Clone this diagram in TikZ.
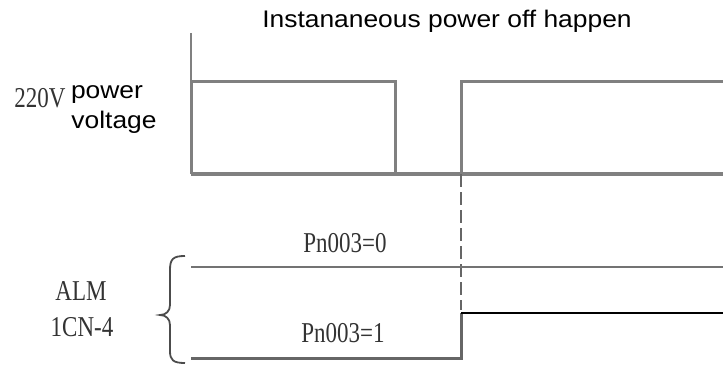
\documentclass[tikz,border=0pt]{standalone}
\usepackage{fontspec}
\newfontfamily\labsans{Liberation Sans}
\newfontfamily\labserif{Liberation Serif}
\begin{document}
\begin{tikzpicture}[x=1pt,y=-1pt,
  sanslab/.style={inner sep=0pt,font=\labsans\fontsize{24}{27}\selectfont,xscale=1.1,transform shape},
  seriflab/.style={inner sep=0pt,font=\labserif\fontsize{23}{26}\selectfont,yscale=1.25,transform shape,text=black!80},
  sig/.style={draw=black!50,line width=3pt},
  base/.style={draw=black!50,line width=4.5pt},
  thinsig/.style={draw=black!55,line width=2.2pt},
  blacksig/.style={draw=black,line width=2.5pt}]
\useasboundingbox (0,0) rectangle (723,369);
% coordinates
\coordinate (axtop) at (191,33);
\coordinate (o) at (191,174);
\coordinate (p1up) at (191,82);
\coordinate (p1end) at (395,82);
\coordinate (p1down) at (395,174);
\coordinate (p2low) at (461,174);
\coordinate (p2up) at (461,82);
\coordinate (p2end) at (723,82);
\coordinate (bend) at (723,174);
\coordinate (dashend) at (461,310);
\coordinate (a0s) at (191,267);
\coordinate (a0e) at (723,267);
\coordinate (a1s) at (191,358);
\coordinate (a1m) at (461,358);
\coordinate (a1u) at (461,313);
\coordinate (a1e) at (723,313);
% axis and power signal
\draw[draw=black!50,line width=2.4pt] (axtop) -- (o);
\draw[sig,line join=miter] (o) -- (p1up) -- (p1end) -- (p1down);
\draw[sig,line join=miter] (p2low) -- (p2up) -- (p2end);
\draw[base] (o) -- (bend);
\draw[draw=black!60,line width=1.6pt,dash pattern=on 13pt off 5pt] (p2low) -- (dashend);
% ALM signals
\draw[thinsig] (a0s) -- (a0e);
\draw[draw=black!60,line width=3pt,line join=miter] (a1s) -- (a1m) -- (a1u);
\draw[blacksig] (a1u) -- (a1e);
% brace
\draw[draw=black!70,line width=1.8pt] (185,256) .. controls (173,256) and (170,259) .. (170,270) -- (170,305) .. controls (170,311) and (166,315) .. (160,315) .. controls (166,315) and (170,319) .. (170,325) -- (170,351) .. controls (170,360) and (173,363) .. (185,363);
% labels
\node[sanslab] (title) at (447,21) {Instananeous power off happen};
\node[seriflab] (v220) at (40,98) {220V};
\node[sanslab] (power) at (107,95) {power};
\node[sanslab] (voltage) at (114,122) {voltage};
\node[seriflab] (alm) at (81,291) {ALM};
\node[seriflab] (cn) at (82,327) {1CN-4};
\node[seriflab] (pn0) at (345,243) {Pn003=0};
\node[seriflab] (pn1) at (343,333) {Pn003=1};
\end{tikzpicture}
\end{document}
